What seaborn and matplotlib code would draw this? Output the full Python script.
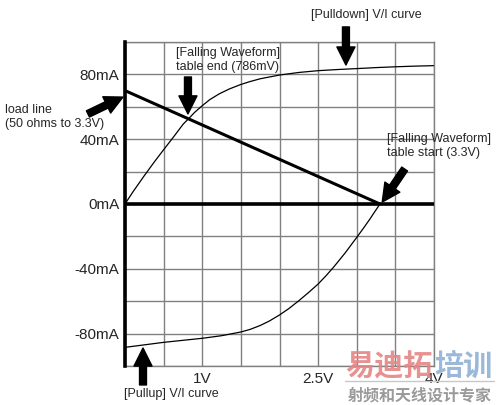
import matplotlib
matplotlib.use("Agg")
import matplotlib.pyplot as plt
import seaborn as sns

# Pulldown V/I curve (V, mA)
pd_v = [0, 0.1, 0.25, 0.38, 0.5, 0.63, 0.755, 0.82, 0.9, 1.0, 1.1, 1.22, 1.35, 1.5, 1.62,
        1.75, 2.0, 2.25, 2.5, 2.75, 3.05, 3.25, 3.5, 3.75, 4.0]
pd_i = [0, 7.3, 17.5, 26, 33.5, 41.5, 49.4, 52.5, 56.5, 60.7, 64.5, 68, 71, 73.8, 75.6,
        77.3, 79.6, 81.2, 82.3, 83.0, 83.7, 84.2, 84.7, 85.1, 85.4]

# Pullup V/I curve (V, mA)
pu_v = [0, 0.5, 1.0, 1.25, 1.5, 1.62, 1.75, 1.87, 2.0, 2.12, 2.25, 2.37, 2.5, 2.6, 2.7,
        2.85, 3.0, 3.08, 3.17, 3.23, 3.3]
pu_i = [-88.5, -85.4, -82.9, -81.3, -79.0, -77.4, -75.0, -72.2, -68.5, -64.6, -59.7, -54.9,
        -49.4, -44.4, -39.0, -30.2, -20.6, -15.4, -9.3, -5.0, 0]

# load line 50 ohms to 3.3V
load_v = [0, 3.3]
load_i = [70, 0]

x_ticks = [0, 0.5, 1.0, 1.5, 2.0, 2.5, 3.0, 3.5, 4.0]
x_labels = ["", "", "1V", "", "", "2.5V", "", "", "4V"]
y_ticks = [-100, -80, -60, -40, -20, 0, 20, 40, 60, 80, 100]
y_labels = ["", "-80mA", "", "-40mA", "", "0mA", "", "40mA", "", "80mA", ""]

sns.set_style("white")
plt.rcParams["font.family"] = ["Liberation Sans", "DejaVu Sans"]

fig = plt.figure(figsize=(4.97, 4.05), dpi=100)
ax = fig.add_axes([125 / 497, 1 - 366 / 405, 309 / 497, 324 / 405])

sns.lineplot(x=pd_v, y=pd_i, ax=ax, color="black", lw=0.9, estimator=None, sort=False)
sns.lineplot(x=pu_v, y=pu_i, ax=ax, color="black", lw=0.9, estimator=None, sort=False)
sns.lineplot(x=load_v, y=load_i, ax=ax, color="black", lw=2.2, estimator=None, sort=False)
ax.axhline(0, color="black", lw=2.6, zorder=3)

ax.set_xlim(0, 4)
ax.set_ylim(-100, 100)
ax.set_xticks(x_ticks)
ax.set_xticklabels(x_labels, fontsize=11)
ax.set_yticks(y_ticks)
ax.set_yticklabels(y_labels, fontsize=11)
ax.tick_params(length=0, pad=4)
ax.grid(True, color="#808080", lw=1)
for s in ["top", "right", "bottom"]:
    ax.spines[s].set_color("#808080")
    ax.spines[s].set_linewidth(1)
ax.spines["left"].set_color("black")
ax.spines["left"].set_linewidth(2.6)
ax.spines["left"].set_zorder(4)

arrow = dict(arrowstyle="simple,head_length=1.3,head_width=1.3,tail_width=0.5",
             fc="black", ec="black", shrinkA=0, shrinkB=0, mutation_scale=10)

def note(text, xy, xytext, tx, ty, ha="left"):
    ax.annotate("", xy=xy, xytext=xytext, arrowprops=arrow, annotation_clip=False)
    ax.text(tx, ty, text, fontsize=9, ha=ha, va="center", linespacing=1.25, clip_on=False)

note("[Pulldown] V/I curve", (2.86, 85.8), (2.86, 109.3), 3.13, 116.5, ha="center")
note("[Falling Waveform]\ntable end (786mV)", (0.815, 55.6), (0.815, 78.4), 0.66, 89)
note("load line\n(50 ohms to 3.3V)", (-0.026, 66), (-0.48, 55.6), -1.553, 53.5)
note("[Falling Waveform]\ntable start (3.3V)", (3.33, 1.2), (3.62, 21.6), 3.39, 35.8)
note("[Pullup] V/I curve", (0.233, -88.9), (0.233, -111.7), 0.6, -117.3, ha="center")

# watermark
cjk = ["Noto Sans CJK SC", "DejaVu Sans"]
fig.text(345 / 497, 1 - 366 / 405, "易迪拓", fontsize=21, fontweight="bold", color="#e58585",
         family=cjk, ha="left", va="center", alpha=0.9)
fig.text(434 / 497, 1 - 366 / 405, "培训", fontsize=21, fontweight="bold", color="#8fb2d6",
         family=cjk, ha="left", va="center", alpha=0.9)
fig.add_artist(plt.Line2D([345 / 497, 494 / 497], [1 - 381 / 405, 1 - 381 / 405],
                          color="#c8c8c8", lw=1))
fig.text(420 / 497, 1 - 395 / 405, "射频和天线设计专家", fontsize=11.5, fontweight="bold",
         color="#9a9a9a", family=cjk, ha="center", va="center")

fig.savefig("out.png", dpi=100)
